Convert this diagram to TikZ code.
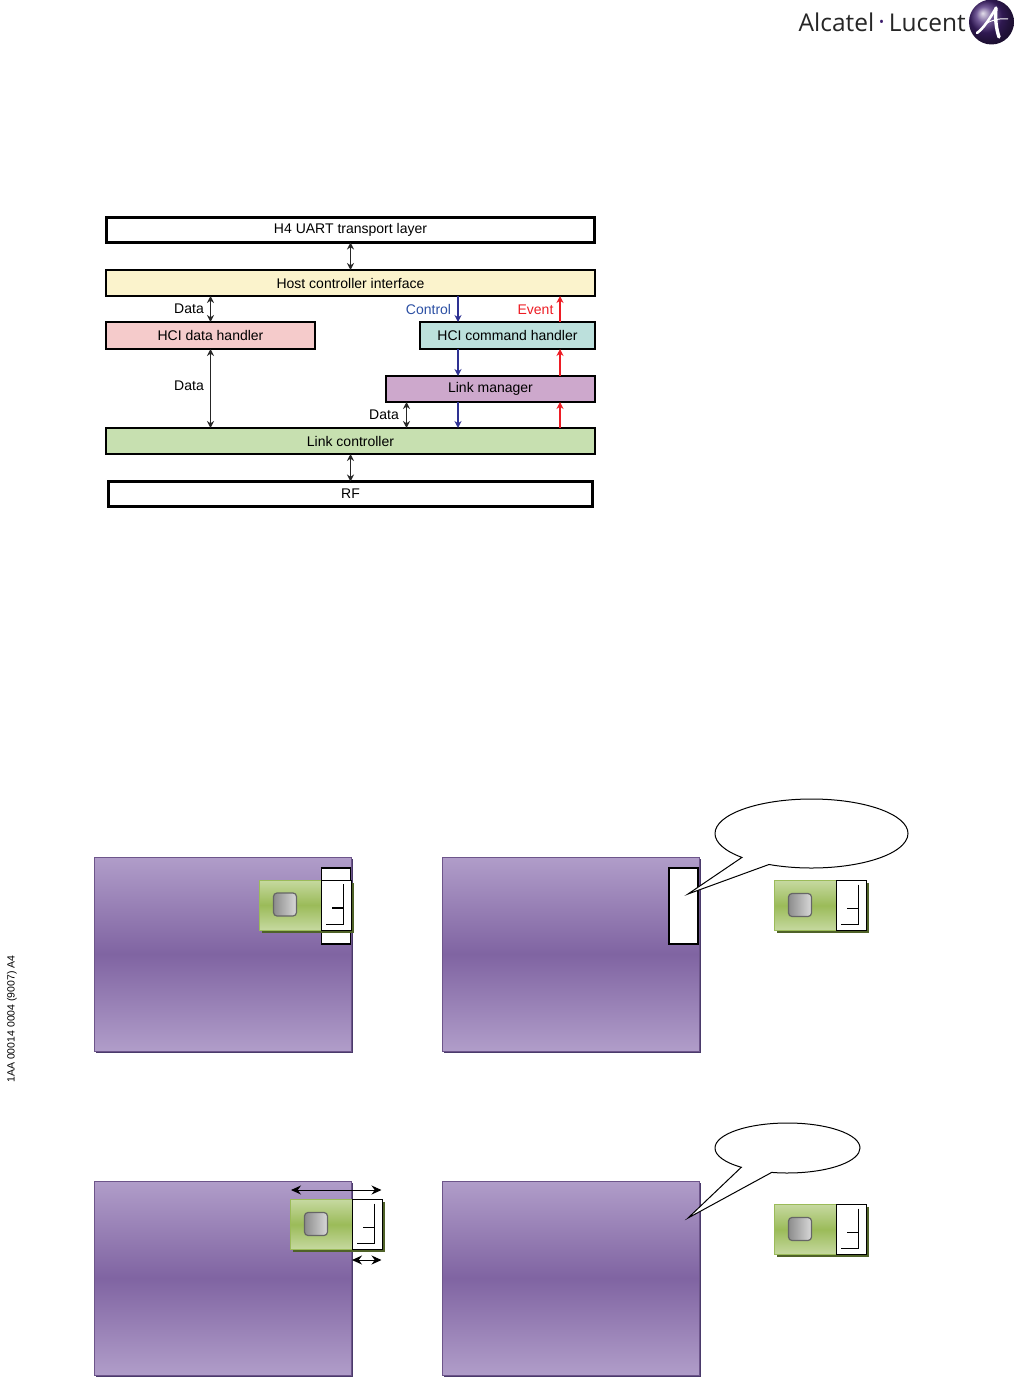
\documentclass[tikz,border=0pt]{standalone}
\usepackage{fontspec}
\setmainfont{Liberation Sans}
\newfontfamily\logofont{Open Sans}
\usetikzlibrary{arrows.meta,positioning,shapes.callouts,shadows,calc}
\definecolor{hciyellow}{HTML}{FBF3CC}
\definecolor{datapink}{HTML}{F5CBCB}
\definecolor{cmdcyan}{HTML}{BCE0DC}
\definecolor{lmpurple}{HTML}{CDA8CC}
\definecolor{lcgreen}{HTML}{C7E0B0}
\definecolor{ctlblue}{HTML}{2E3192}
\definecolor{ctltext}{HTML}{2B4FA3}
\definecolor{evtred}{HTML}{ED1C24}
\definecolor{panellight}{HTML}{B09DC9}
\definecolor{paneldark}{HTML}{8064A2}
\definecolor{panelshadow}{HTML}{4A3A6B}
\definecolor{chiplight}{HTML}{C6D9A0}
\definecolor{chipdark}{HTML}{9BBB59}
\definecolor{chipshadow}{HTML}{4F6228}
\definecolor{logodark}{HTML}{3A1A6B}
\definecolor{logolight}{HTML}{7A5AA8}
\tikzset{
  layer/.style={draw=black,line width=1.4pt,inner sep=0pt,outer sep=0pt,align=center,font=\fontsize{14}{16}\selectfont},
  busbox/.style={layer,line width=3.4pt},
  lbl/.style={inner sep=0pt,font=\fontsize{14}{16}\selectfont},
  both/.style={{Stealth[length=7pt,width=7pt]}-{Stealth[length=7pt,width=7pt]},line width=1.2pt,draw=black!85},
  down/.style={-{Stealth[length=7pt,width=7pt]},line width=1.2pt,draw=ctlblue},
  up/.style={-{Stealth[length=7pt,width=7pt]},line width=1.2pt,draw=evtred},
  panel/.style={draw=paneldark!85!black,line width=1pt,inner sep=0pt,outer sep=0pt,minimum width=257pt,minimum height=194pt,anchor=north west,
    top color=panellight,bottom color=panellight,middle color=paneldark,
    drop shadow={shadow xshift=1.5pt,shadow yshift=-1.5pt,fill=panelshadow,opacity=1}},
  slotbox/.style={draw=black,line width=1.5pt,fill=white,inner sep=0pt,outer sep=0pt,minimum width=29pt,minimum height=76pt,anchor=north west},
  chip/.style={draw=chipdark,line width=1pt,inner sep=0pt,outer sep=0pt,minimum width=92pt,minimum height=50pt,anchor=north west,
    top color=chiplight,bottom color=chiplight,middle color=chipdark,
    drop shadow={shadow xshift=2.5pt,shadow yshift=-2.5pt,fill=chipshadow,opacity=1}},
  chipend/.style={draw=black,line width=1pt,fill=white,inner sep=0pt,outer sep=0pt,minimum width=30.5pt,minimum height=50pt,anchor=north east},
  chipkey/.style={draw=black!60,line width=1.2pt,rounded corners=3.5pt,inner sep=0pt,minimum size=23pt,
    left color=black!45,right color=black!15},
  bubble/.style={ellipse callout,draw=black,line width=1pt,fill=white,inner sep=0pt,outer sep=0pt},
  span/.style={{Stealth[length=10pt,width=9pt]}-{Stealth[length=10pt,width=9pt]},line width=1pt}
}
\newcommand{\chipunit}[3]{%
  \node[chip] (#1) at (#2,#3) {};
  \node[chipend] (#1e) at (#1.north east) {};
  \node[chipkey] (#1k) at ([xshift=25.5pt,yshift=-24.5pt]#1.north west) {};
  \draw[line width=0.9pt] ([xshift=22pt,yshift=-4pt]#1e.north west) -- ([xshift=22pt,yshift=-44pt]#1e.north west) -- ([xshift=5pt,yshift=-44pt]#1e.north west);
  \draw[line width=1.2pt] ([xshift=11pt,yshift=-28pt]#1e.north west) -- ([xshift=22pt,yshift=-28pt]#1e.north west);
}
\begin{document}
\begin{tikzpicture}[x=1pt,y=-1pt]
  \useasboundingbox (0,0) rectangle (1014,1378);
  % logo
  \node[inner sep=0pt,anchor=west,font=\logofont\fontsize{24.5}{26}\selectfont,text=black!85] (brand) at (798.5,22) {Alcatel\,{\raisebox{1pt}{\textcolor{logodark}{\textperiodcentered}}}\,Lucent};
  \node[circle,minimum size=45pt,inner sep=0pt,shading=ball,ball color=logodark!85!logolight] (globe) at (991.5,22) {};
  \draw[white,line width=2.6pt,line cap=round] (977,33) .. controls (984,28) and (990,18) .. (996,8);
  \draw[white,line width=3.4pt,line cap=round] (996,8) .. controls (995,18) and (996,28) .. (999,37);
  \draw[white,line width=1pt] (985,24) .. controls (992,20) and (1000,18) .. (1008,19);
  % side code
  \node[rotate=90,inner sep=0pt,font=\fontsize{10.5}{12}\selectfont] (code) at (12,1019) {1AA 00014 0004 (9007) A4};
  % stack
  \node[busbox,minimum width=488pt,minimum height=25pt] (h4) at (350.5,230) {H4 UART transport layer};
  \node[layer,fill=hciyellow,minimum width=489pt,minimum height=26pt] (hci) at (350.5,283) {Host controller interface};
  \node[layer,fill=datapink,minimum width=209pt,minimum height=27pt,anchor=north west] (dh) at (106,322) {HCI data handler};
  \node[layer,fill=cmdcyan,minimum width=175pt,minimum height=27pt,anchor=north east] (cmd) at (595,322) {HCI command handler};
  \node[layer,fill=lmpurple,minimum width=209pt,minimum height=26pt,anchor=north east] (lm) at (595,376) {Link manager};
  \node[layer,fill=lcgreen,minimum width=489pt,minimum height=26pt] (lc) at (350.5,441) {Link controller};
  \node[busbox,minimum width=484pt,minimum height=25pt] (rf) at (350.5,494) {RF};
  \coordinate (ctl) at (458,0);
  \coordinate (evt) at (560,0);
  \coordinate (dat) at (406.5,0);
  \draw[both] (h4) -- (hci);
  \draw[both] (lc) -- (rf);
  \draw[both] (hci.south -| dh.north) -- (dh.north);
  \draw[both] (dh.south) -- (lc.north -| dh.south);
  \draw[both] (lm.south -| dat) -- (lc.north -| dat);
  \draw[down] (hci.south -| ctl) -- (cmd.north -| ctl);
  \draw[down] (cmd.south -| ctl) -- (lm.north -| ctl);
  \draw[down] (lm.south -| ctl) -- (lc.north -| ctl);
  \draw[up] (lc.north -| evt) -- (lm.south -| evt);
  \draw[up] (lm.north -| evt) -- (cmd.south -| evt);
  \draw[up] (cmd.north -| evt) -- (hci.south -| evt);
  \node[lbl] (d1) at (189,309) {Data};
  \node[lbl] (d2) at (189,386) {Data};
  \node[lbl] (d3) at (384,415) {Data};
  \node[lbl,text=ctltext] (ctllbl) at (428.5,309) {Control};
  \node[lbl,text=evtred] (evtlbl) at (535.5,310) {Event};
  % top pair
  \node[panel] (p1) at (94,857) {};
  \node[panel] (p2) at (442,857) {};
  \node[slotbox] (s1) at (321.5,868) {};
  \node[slotbox] (s2) at (669,868) {};
  \chipunit{c1}{259.5}{880}
  \chipunit{c2}{774.5}{880.5}
  \node[bubble,minimum width=193pt,minimum height=69pt,callout pointer arc=20,callout absolute pointer={(688,894)}] (b1) at (811.5,833.5) {};
  % bottom pair
  \node[panel] (p3) at (94,1181) {};
  \node[panel] (p4) at (442,1181) {};
  \chipunit{c3}{290.5}{1199.5}
  \chipunit{c4}{774.5}{1204.5}
  \node[bubble,minimum width=145pt,minimum height=50pt,callout pointer arc=27,callout absolute pointer={(688,1218)}] (b2) at (787.5,1148) {};
  \coordinate (tl) at (291,1190);
  \coordinate (tr) at (381.5,1190);
  \coordinate (ll) at (352,1260);
  \coordinate (lr) at (381.5,1260);
  \draw[span] (tl) -- (tr);
  \draw[span] (ll) -- (lr);
\end{tikzpicture}
\end{document}
